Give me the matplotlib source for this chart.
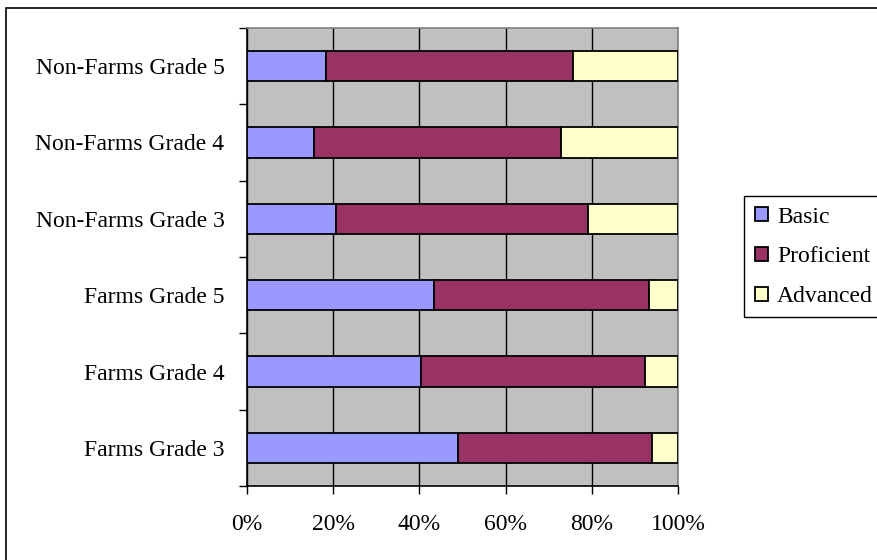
import matplotlib.pyplot as plt
import numpy as np
from matplotlib.patches import Rectangle
from matplotlib.ticker import FixedLocator, PercentFormatter

plt.rcParams['font.family'] = ['Liberation Serif', 'DejaVu Serif']

categories = ['Farms Grade 3', 'Farms Grade 4', 'Farms Grade 5',
              'Non-Farms Grade 3', 'Non-Farms Grade 4', 'Non-Farms Grade 5']
basic = [48.9, 40.5, 43.4, 20.7, 15.5, 18.3]
proficient = [44.9, 51.9, 49.9, 58.3, 57.4, 57.4]
advanced = [6.2, 7.6, 6.7, 21.0, 27.1, 24.3]

series = [('Basic', basic, '#9999ff'),
          ('Proficient', proficient, '#993366'),
          ('Advanced', advanced, '#ffffcc')]

W, H = 877, 560
fig = plt.figure(figsize=(W / 100, H / 100), dpi=100)
ax = fig.add_axes([246.7 / W, 1 - 486 / H, 431.6 / W, 458 / H])
ax.set_facecolor('#c0c0c0')

# outer chart frame (runs off the right and bottom edges)
fig.patches.append(Rectangle((6 / W, -0.1), 1.2, 1.1 - 8 / H,
                             transform=fig.transFigure, fill=False,
                             edgecolor='black', linewidth=1.2))
# legend frame, also cut by the right edge
fig.patches.append(Rectangle((744 / W, 1 - 317 / H), 150 / W, 121 / H,
                             transform=fig.transFigure, fill=False,
                             edgecolor='black', linewidth=1))

y = np.arange(len(categories))
left = np.zeros(len(categories))
for name, vals, color in series:
    vals = np.array(vals)
    ax.barh(y, vals, left=left, height=0.4, color=color,
            edgecolor='black', linewidth=1.3, label=name, zorder=3)
    left += vals

ax.set_xlim(0, 100)
ax.set_ylim(-0.5, len(categories) - 0.5)
ax.xaxis.set_major_locator(FixedLocator([0, 20, 40, 60, 80, 100]))
ax.xaxis.set_major_formatter(PercentFormatter(decimals=0))
ax.grid(axis='x', color='black', linewidth=1, zorder=1)

ax.set_yticks(y)
ax.set_yticklabels(categories)
ax.yaxis.set_minor_locator(FixedLocator(np.arange(-0.5, len(categories), 1)))
ax.tick_params(axis='y', which='major', length=0, pad=16, labelsize=17)
ax.tick_params(axis='y', which='minor', length=6, width=1, direction='out')
ax.tick_params(axis='x', length=6, width=1, direction='out', pad=14,
               labelsize=17)

for side in ('top', 'right'):
    ax.spines[side].set_color('#808080')
    ax.spines[side].set_linewidth(1.2)
for side in ('left', 'bottom'):
    ax.spines[side].set_color('black')
    ax.spines[side].set_linewidth(1.2)

leg = ax.legend(loc='center left', bbox_to_anchor=(755 / W, 1 - 257 / H),
                bbox_transform=fig.transFigure, fontsize=17, frameon=False,
                handlelength=0.55, handleheight=0.55, handletextpad=0.38,
                labelspacing=0.8, borderpad=0, borderaxespad=0)

fig.savefig('out.png', dpi=100)
